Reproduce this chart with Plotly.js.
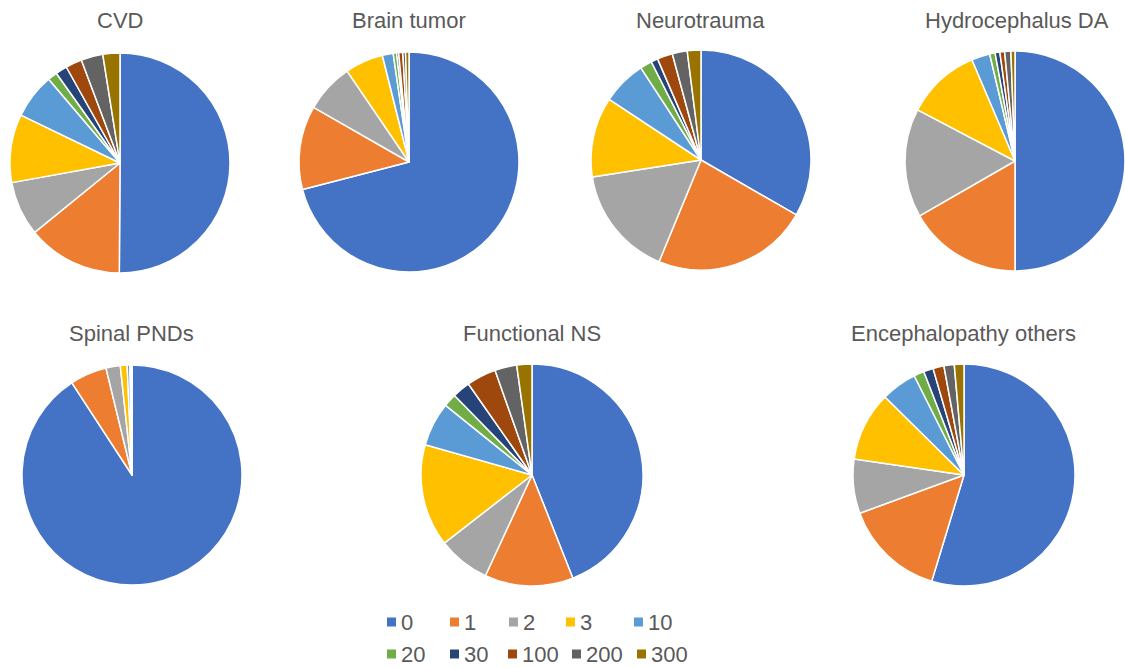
<!DOCTYPE html>
<html>
<head>
<meta charset="utf-8">
<script src="https://cdn.plot.ly/plotly-3.0.1.min.js"></script>
<style>html,body{margin:0;padding:0;background:#fff;}#chart{width:1125px;height:667px;}</style>
</head>
<body>
<div id="chart"></div>
<script>
// Categories (legend labels) and colours
var categories = ['0', '1', '2', '3', '10', '20', '30', '100', '200', '300'];
var colors = ['#4472C4', '#ED7D31', '#A5A5A5', '#FFC000', '#5B9BD5', '#70AD47', '#264478', '#9E480E', '#636363', '#997300'];

// Pie titles
var titles = ['CVD', 'Brain tumor', 'Neurotrauma', 'Hydrocephalus DA', 'Spinal PNDs', 'Functional NS', 'Encephalopathy others'];

// Share (%) for each category, per disease group
var cvd        = [50.0, 14.0, 8.0, 10.0, 6.6, 1.4, 1.7, 2.4, 3.2, 2.5];
var brainTumor = [70.9, 12.3, 7.2, 5.6, 1.6, 0.5, 0.3, 0.6, 0.4, 0.5];
var neurotrauma = [33.3, 22.9, 16.3, 11.75, 6.5, 1.75, 1.0, 2.25, 2.2, 2.0];
var hydrocephalus = [50.0, 16.7, 16.0, 10.9, 2.7, 0.8, 0.7, 0.7, 0.9, 0.6];
var spinal     = [90.8, 5.4, 2.1, 1.0, 0.4, 0.1, 0.1, 0.1, 0.0, 0.0];
var functional = [44.0, 12.9, 7.6, 14.9, 6.4, 1.9, 2.6, 4.3, 3.2, 2.2];
var encephalopathy = [54.7, 14.7, 7.9, 10.1, 5.2, 1.5, 1.4, 1.6, 1.5, 1.4];

var series = [cvd, brainTumor, neurotrauma, hydrocephalus, spinal, functional, encephalopathy];

// Layout geometry (pixels): pie centre x, centre y, radius, title y
var W = 1125, H = 667;
var geom = [
  [120, 163, 110, 20],
  [409, 162, 110, 20],
  [701, 160, 110, 20],
  [1015, 161, 110, 20],
  [132, 475, 110, 333],
  [532, 475, 111, 333],
  [964, 475, 111, 333]
];
var titleX = [120, 409, 700, 1017, 131, 532, 963];

var FONT = 'Liberation Sans, Arial, sans-serif';
var TXT = '#595959';

var data = [];
var annotations = [];
series.forEach(function (vals, i) {
  var g = geom[i];
  data.push({
    type: 'pie',
    labels: categories,
    values: vals,
    sort: false,
    direction: 'clockwise',
    rotation: 0,
    textinfo: 'none',
    hoverinfo: 'label+percent',
    showlegend: false,
    marker: { colors: colors, line: { color: '#ffffff', width: 1.5 } },
    domain: {
      x: [Math.max(0, (g[0] - g[2]) / W), Math.min(1, (g[0] + g[2]) / W)],
      y: [1 - (g[1] + g[2]) / H, 1 - (g[1] - g[2]) / H]
    }
  });
  annotations.push({
    text: titles[i], xref: 'paper', yref: 'paper',
    x: titleX[i] / W, y: 1 - g[3] / H, xanchor: 'center', yanchor: 'middle',
    showarrow: false, font: { family: FONT, size: 22, color: TXT }
  });
});

// Legend built as shapes + annotations (two rows of five)
var legX = [387, 450, 509, 566, 634, 387, 450, 508, 572, 637];
var legY = [622, 622, 622, 622, 622, 654, 654, 654, 654, 654];
var shapes = [];
categories.forEach(function (c, i) {
  var sx = legX[i], sy = legY[i];
  shapes.push({
    type: 'rect', xref: 'paper', yref: 'paper',
    x0: sx / W, x1: (sx + 9) / W, y0: 1 - (sy + 4.5) / H, y1: 1 - (sy - 4.5) / H,
    fillcolor: colors[i], line: { width: 0 }
  });
  annotations.push({
    text: c, xref: 'paper', yref: 'paper',
    x: (sx + 12) / W, y: 1 - sy / H, xanchor: 'left', yanchor: 'middle',
    showarrow: false, font: { family: FONT, size: 22, color: TXT }
  });
});

var layout = {
  width: W, height: H,
  margin: { l: 0, r: 0, t: 0, b: 0 },
  paper_bgcolor: '#ffffff',
  plot_bgcolor: '#ffffff',
  showlegend: false,
  annotations: annotations,
  shapes: shapes
};

Plotly.newPlot('chart', data, layout, { displayModeBar: false, staticPlot: true });
</script>
</body>
</html>
